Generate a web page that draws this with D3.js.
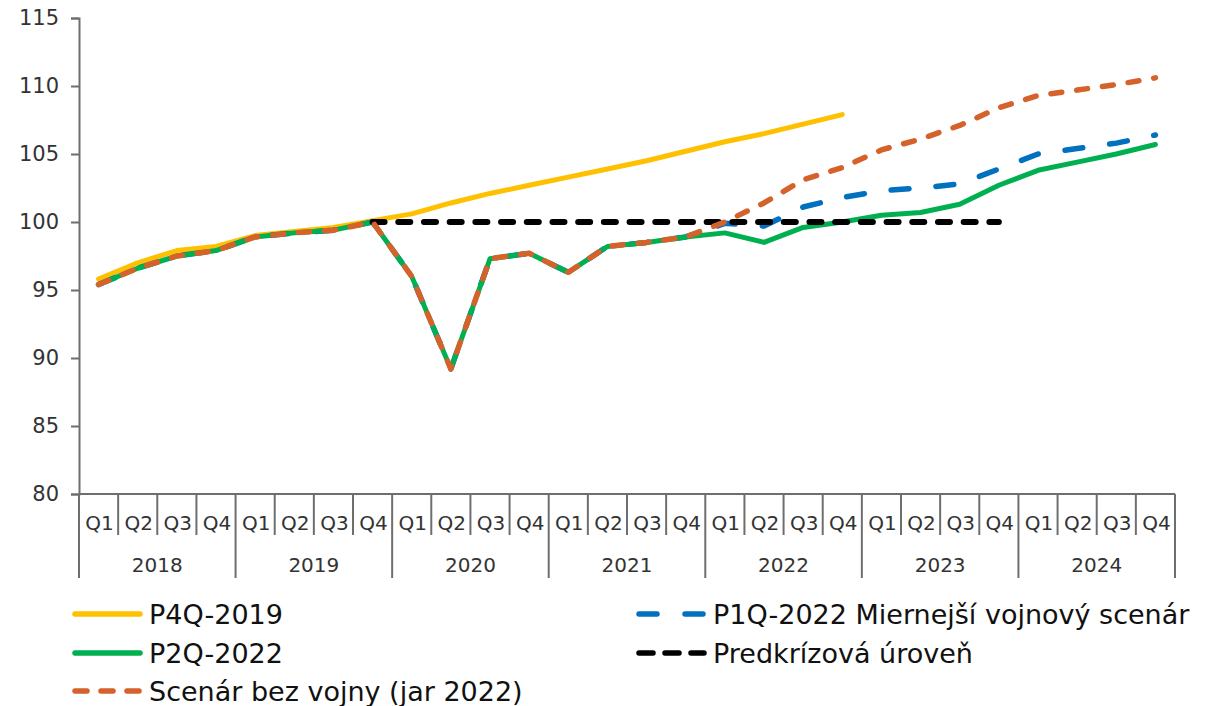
<!DOCTYPE html>
<html>
<head>
<meta charset="utf-8">
<script src="https://cdn.jsdelivr.net/npm/d3@7"></script>
<style>
  html, body { margin: 0; padding: 0; background: #fff; }
  svg { display: block; font-family: "DejaVu Sans", Verdana, sans-serif; }
</style>
</head>
<body>
<svg id="chart" width="1209" height="706"></svg>
<script>
// Quarter / year categories
const quarters = ["Q1", "Q2", "Q3", "Q4"];
const years = ["2018", "2019", "2020", "2021", "2022", "2023", "2024"];
const yTicks = [80, 85, 90, 95, 100, 105, 110, 115];

// Series values (index = quarter from 2018 Q1)
const p4q2019 = [95.8, 97.0, 97.9, 98.2, 99.0, 99.3, 99.6, 100.1,
                 100.6, 101.4, 102.1, 102.7, 103.3, 103.9, 104.5, 105.2,
                 105.9, 106.5, 107.2, 107.9];
const p1q2022 = [95.4, 96.6, 97.5, 97.9, 98.9, 99.2, 99.4, 100.0,
                 96.0, 89.2, 97.3, 97.7, 96.3, 98.2, 98.5, 98.9,
                 99.9, 99.7, 101.1, 101.8, 102.3, 102.5, 102.8, 103.9,
                 105.0, 105.4, 105.8, 106.4];
const p2q2022 = [95.4, 96.6, 97.5, 97.9, 98.9, 99.2, 99.4, 100.0,
                 96.0, 89.2, 97.3, 97.7, 96.3, 98.2, 98.5, 98.9,
                 99.2, 98.5, 99.6, 100.0, 100.5, 100.7, 101.3, 102.7,
                 103.8, 104.4, 105.0, 105.7];
const predkrizova = [null, null, null, null, null, null, null, 100,
                     100, 100, 100, 100, 100, 100, 100, 100,
                     100, 100, 100, 100, 100, 100, 100, 100,
                     null, null, null, null];
const bezVojny = [95.4, 96.6, 97.5, 97.9, 98.9, 99.2, 99.4, 100.0,
                  96.0, 89.2, 97.3, 97.7, 96.3, 98.2, 98.5, 98.9,
                  100.0, 101.4, 103.1, 104.0, 105.3, 106.1, 107.1, 108.4,
                  109.3, 109.7, 110.1, 110.6];

const seriesNames = ["P4Q-2019", "P1Q-2022 Miernejší vojnový scenár", "P2Q-2022",
                     "Predkrízová úroveň", "Scenár bez vojny (jar 2022)"];

const categories = [];
years.forEach(y => quarters.forEach(q => categories.push(y + " " + q)));

const series = [
  { name: seriesNames[0], values: p4q2019, color: "#FFC000", width: 5, dash: null, cap: "round" },
  { name: seriesNames[1], values: p1q2022, color: "#0070C0", width: 5.5, dash: "18,27", cap: "round" },
  { name: seriesNames[2], values: p2q2022, color: "#00B050", width: 5, dash: null, cap: "round" },
  { name: seriesNames[3], values: predkrizova, color: "#000000", width: 6, dash: "12,13.7", cap: "round" },
  { name: seriesNames[4], values: bezVojny, color: "#D5622B", width: 5.5, dash: "11,15", cap: "round" }
];

const svg = d3.select("#chart");
const W = 1209, H = 706;
svg.append("rect").attr("width", W).attr("height", H).attr("fill", "#fff");

const plot = { left: 79, right: 1175, top: 18, bottom: 494 };
const axisColor = "#6e6e6e";
const textColor = "#333333";

const x = d3.scaleBand().domain(categories).range([plot.left, plot.right]).padding(0);
const y = d3.scaleLinear().domain([80, 115]).range([plot.bottom, plot.top]);

// Y axis
const yAxis = svg.append("g")
  .attr("transform", `translate(${plot.left},0)`)
  .call(d3.axisLeft(y).tickValues(yTicks).tickSize(8).tickPadding(12).tickFormat(d3.format("d")));
yAxis.select(".domain").attr("stroke", axisColor).attr("stroke-width", 2);
yAxis.selectAll(".tick line").attr("stroke", axisColor).attr("stroke-width", 2);
yAxis.selectAll(".tick text").attr("fill", textColor).style("font-size", "21px")
  .style("font-family", "'DejaVu Sans', Verdana, sans-serif");

// X axis: baseline, quarter separators and year separators
const xg = svg.append("g");
xg.append("line")
  .attr("x1", plot.left).attr("x2", plot.right)
  .attr("y1", plot.bottom).attr("y2", plot.bottom)
  .attr("stroke", axisColor).attr("stroke-width", 2);

const sepQ = 535, sepY = 578;
const boundaries = categories.map(c => x(c)).concat([plot.right]);
boundaries.forEach((bx, i) => {
  const isYear = i % 4 === 0;
  xg.append("line")
    .attr("x1", bx).attr("x2", bx)
    .attr("y1", plot.bottom).attr("y2", isYear ? sepY : sepQ)
    .attr("stroke", axisColor).attr("stroke-width", 2);
});

xg.selectAll("text.q")
  .data(categories)
  .join("text")
  .attr("class", "q")
  .attr("x", d => x(d) + x.bandwidth() / 2 + 1)
  .attr("y", 523)
  .attr("text-anchor", "middle")
  .attr("dominant-baseline", "central")
  .attr("fill", textColor)
  .style("font-size", "20px")
  .text(d => d.split(" ")[1]);

xg.selectAll("text.yr")
  .data(years)
  .join("text")
  .attr("class", "yr")
  .attr("x", d => (x(d + " Q1") + x(d + " Q4") + x.bandwidth()) / 2)
  .attr("y", 565)
  .attr("text-anchor", "middle")
  .attr("dominant-baseline", "central")
  .attr("fill", textColor)
  .style("font-size", "20px")
  .text(d => d);

// Series lines
const line = d3.line()
  .defined(d => d.v !== null)
  .x(d => x(d.c) + x.bandwidth() / 2)
  .y(d => y(d.v));

series.forEach(s => {
  const pts = s.values.map((v, i) => ({ c: categories[i], v: v }));
  svg.append("path")
    .datum(pts)
    .attr("d", line)
    .attr("fill", "none")
    .attr("stroke", s.color)
    .attr("stroke-width", s.width)
    .attr("stroke-linejoin", "round")
    .attr("stroke-linecap", s.cap)
    .attr("stroke-dasharray", s.dash);
});

// Legend
const legendItems = [
  { s: series[0], x: 72, y: 614, dash: null },
  { s: series[1], x: 636, y: 614, dash: "18,28" },
  { s: series[2], x: 72, y: 653, dash: null },
  { s: series[3], x: 636, y: 653, dash: "14,12" },
  { s: series[4], x: 72, y: 691, dash: "12,14" }
];
const lg = svg.append("g");
legendItems.forEach(it => {
  const g = lg.append("g").attr("transform", `translate(${it.x},${it.y})`);
  g.append("line")
    .attr("x1", 3).attr("x2", 68)
    .attr("stroke", it.s.color)
    .attr("stroke-width", 5.5)
    .attr("stroke-linecap", "round")
    .attr("stroke-dasharray", it.dash);
  g.append("text")
    .attr("x", 77)
    .attr("dominant-baseline", "central")
    .attr("fill", "#111")
    .style("font-size", "27px")
    .text(it.s.name);
});
</script>
</body>
</html>
